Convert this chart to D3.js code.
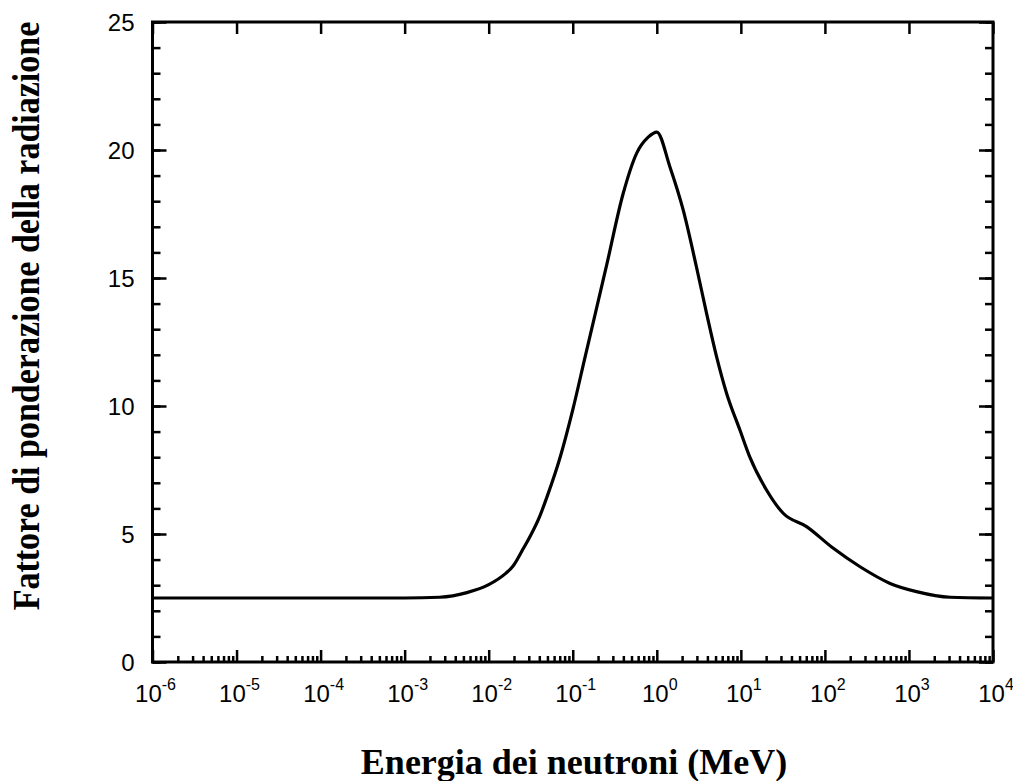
<!DOCTYPE html>
<html>
<head>
<meta charset="utf-8">
<style>
  body { margin: 0; background: #fff; }
</style>
</head>
<body>
<svg width="1013" height="781"></svg>
<script src="https://cdn.jsdelivr.net/npm/d3@7"></script>
<script>

// neutron energy (MeV) and radiation weighting factor
var energy = [1e-6, 1e-4, 1e-3, 0.0026, 0.0055, 0.01, 0.0158, 0.0195, 0.025, 0.0316, 0.04, 0.05,
              0.0708, 0.1, 0.141, 0.251, 0.398, 0.575, 0.79, 1,
              1.43, 2.06, 2.96, 3.91, 5.14, 6.76, 9.75, 12.8, 20.2, 31.9, 60.5,
              126, 262, 596, 1230, 3090, 10000];
var weight = [2.5, 2.5, 2.5, 2.53, 2.71, 3.02, 3.45, 3.75, 4.35, 4.95, 5.65, 6.5,
              8.0, 9.85, 11.95, 15.45, 18.3, 19.87, 20.5, 20.7,
              19.35, 17.66, 15.44, 13.62, 11.93, 10.5, 9.06, 8.0, 6.72, 5.81, 5.29,
              4.44, 3.72, 3.07, 2.75, 2.53, 2.5];

var yMajor = [0, 5, 10, 15, 20, 25];
var yMinor = d3.range(0, 26);
var decades = [-6, -5, -4, -3, -2, -1, 0, 1, 2, 3, 4];

var svg = d3.select("svg"),
    margin = {top: 22, right: 20, bottom: 119, left: 152.5},
    width = +svg.attr("width") - margin.left - margin.right,
    height = +svg.attr("height") - margin.top - margin.bottom;

var x = d3.scaleLog().domain([1e-6, 1e4]).range([0, width]);
var y = d3.scaleLinear().domain([0, 25]).range([height, 0]);

var xMajor = decades.map(function(d) { return Math.pow(10, d); });
var xMinor = [];
decades.slice(0, -1).forEach(function(d) {
  for (var k = 2; k < 10; k++) xMinor.push(k * Math.pow(10, d));
});

var g = svg.append("g")
    .attr("transform", "translate(" + margin.left + "," + margin.top + ")");

function tidy(sel) {
  sel.select(".domain").remove();
  sel.selectAll("line").attr("stroke", "#000").attr("stroke-width", 2.5);
}

// bottom axis: decade ticks + minor ticks, pointing inward
g.append("g").attr("transform", "translate(0," + height + ")")
    .call(d3.axisBottom(x).tickValues(xMajor).tickSize(-12).tickFormat(""))
    .call(tidy);
g.append("g").attr("transform", "translate(0," + height + ")")
    .call(d3.axisBottom(x).tickValues(xMinor).tickSize(-6).tickFormat(""))
    .call(tidy);

// top axis: decades only
g.append("g")
    .call(d3.axisTop(x).tickValues(xMajor).tickSize(-12).tickFormat(""))
    .call(tidy);

// left and right axes
g.append("g")
    .call(d3.axisLeft(y).tickValues(yMajor).tickSize(-14).tickFormat(""))
    .call(tidy);
g.append("g")
    .call(d3.axisLeft(y).tickValues(yMinor).tickSize(-8).tickFormat(""))
    .call(tidy);
g.append("g").attr("transform", "translate(" + width + ",0)")
    .call(d3.axisRight(y).tickValues(yMajor).tickSize(-14).tickFormat(""))
    .call(tidy);
g.append("g").attr("transform", "translate(" + width + ",0)")
    .call(d3.axisRight(y).tickValues(yMinor).tickSize(-8).tickFormat(""))
    .call(tidy);

// y tick labels
g.selectAll(".ylab")
    .data(yMajor)
  .enter().append("text")
    .attr("class", "ylab")
    .attr("x", -18)
    .attr("y", function(d) { return y(d); })
    .attr("dy", "0.36em")
    .attr("text-anchor", "end")
    .style("font-family", "'Liberation Sans', Arial, sans-serif")
    .style("font-size", "24px")
    .text(function(d) { return d; });

// x tick labels as powers of ten
var xl = g.selectAll(".xlab")
    .data(decades)
  .enter().append("text")
    .attr("class", "xlab")
    .attr("x", function(d) { return x(Math.pow(10, d)) + 3; })
    .attr("y", height + 40)
    .attr("text-anchor", "middle")
    .style("font-family", "'Liberation Sans', Arial, sans-serif")
    .style("font-size", "24px");
xl.append("tspan").text("10");
xl.append("tspan")
    .attr("dy", -12)
    .style("font-size", "16px")
    .text(function(d) { return d < 0 ? "-" + (-d) : d; });

// curve
var line = d3.line()
    .x(function(d, i) { return x(energy[i]); })
    .y(function(d) { return y(d); })
    .curve(d3.curveMonotoneX);

g.append("path")
    .datum(weight)
    .attr("fill", "none")
    .attr("stroke", "#000")
    .attr("stroke-width", 3.2)
    .attr("stroke-linejoin", "round")
    .attr("d", line);

// frame
g.append("rect")
    .attr("width", width)
    .attr("height", height)
    .attr("fill", "none")
    .attr("stroke", "#000")
    .attr("stroke-width", 3);

// axis titles
svg.append("text")
    .attr("x", 574)
    .attr("y", 774)
    .attr("text-anchor", "middle")
    .style("font-family", "'Liberation Serif', 'Times New Roman', serif")
    .style("font-weight", "bold")
    .style("font-size", "36px")
    .text("Energia dei neutroni (MeV)");

svg.append("text")
    .attr("transform", "translate(39,316) rotate(-90) scale(1,1.1)")
    .attr("text-anchor", "middle")
    .style("font-family", "'Liberation Serif', 'Times New Roman', serif")
    .style("font-weight", "bold")
    .style("font-size", "34px")
    .text("Fattore di ponderazione della radiazione");

</script>
</body>
</html>
